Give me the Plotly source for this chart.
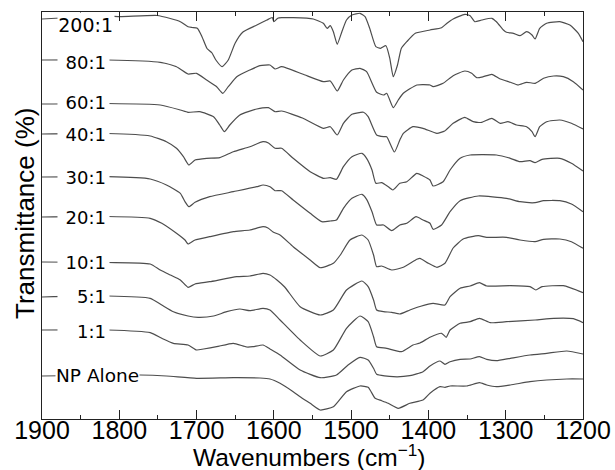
import plotly.graph_objects as go

# FTIR spectra: (wavenumber cm^-1, offset transmittance in arbitrary units)
s_200 = [(1900,400),(1815,403),(1799,402.3),(1751,403.5),(1734,400.5),(1721,397.3),(1711,392.3),(1706,391.5),
         (1699,390.7),(1693,382.3),(1686.5,370.5),(1680,366),(1675,359),(1667,352.3),(1659,359),(1650,376),
         (1640,387),(1622,394),(1609,399),(1602,401.5),(1600,397.3),(1595,400.7),(1590,401.3),(1575,401.3),
         (1549,400),(1536,395.7),(1531,390.7),(1527,393.3),(1523,387.3),(1518,374.7),(1512,387.3),(1506,399),
         (1499,404),(1488.5,405.7),(1482,402.3),(1476,390.7),(1468,372.3),(1462,370.7),(1455,373.3),(1450,360.7),
         (1445.5,342.3),(1440,354),(1435,370.7),(1428,377.3),(1417,385.7),(1398,389),(1383,391.3),(1376,395.7),
         (1368,400),(1353,404.7),(1346,403.3),(1340,397.3),(1331,399),(1318,400.7),(1312,397.3),(1303,389),
         (1299,386.7),(1290,385.7),(1281.5,383.3),(1273,387.3),(1266,384),(1262,380),(1256,390.7),(1247,395.7),
         (1230,397.3),(1217,394),(1206,385.7),(1200,377.3)]

s_80 = [(1900,359),(1815,359),(1747,356.7),(1726,352.3),(1711,345),(1700,345.7),(1687,339),(1674,332.3),
        (1666,325.7),(1659,332.3),(1648,342.3),(1631,349),(1618,353.3),(1605,354),(1598.5,350),(1590,352.3),
        (1563,345),(1536,337.3),(1527,338),(1518,328),(1510,339),(1499,349),(1488.5,350.7),(1480,347.3),
        (1467,326.7),(1458,324),(1454,325.7),(1445.5,311.3),(1439,319),(1432.5,325.7),(1415,334),(1398,334),
        (1394,332.3),(1381,335.7),(1368,343.3),(1353,348),(1344,345.7),(1337.5,341.3),(1329,342.3),(1318,344.7),
        (1307,340),(1294,336.7),(1284,334),(1273,336.7),(1262,335.7),(1251,340.7),(1238,343),(1225.5,342.3),
        (1212.5,337.3),(1200,329)]

s_60 = [(1900,315),(1815,315.5),(1747,314),(1721,309),(1711,306.7),(1696,307.3),(1678,302.3),(1670,294),
        (1664,287.3),(1657,294),(1644,304),(1622,310),(1607,311.3),(1598.5,307.3),(1590,308),(1563,301),
        (1536,290.7),(1527,292.3),(1518,284),(1510,295.7),(1499,304.7),(1484,306.7),(1478,302.3),(1467,284),
        (1458,282.3),(1454,282.3),(1444,267),(1437,279),(1432.5,285.7),(1420,292.3),(1407,290.7),(1389,285.7),
        (1379,288),(1368,295.7),(1353,301.7),(1342,297.3),(1331,296.7),(1318,300.7),(1307,295.7),(1297,297.3),
        (1286,294),(1273,292.3),(1266,287.3),(1262,282.3),(1256,292.3),(1247,297.3),(1230,299),(1215,295.7),
        (1200,290)]

s_40 = [(1900,285),(1815,285.5),(1760,283),(1739,277.3),(1726,270.7),(1717,262.3),(1710,254),(1702,259),
        (1687,260.7),(1670,261.3),(1652.5,267.3),(1631,272.3),(1614,277.3),(1607,276),(1598.5,270.7),(1590,270.7),
        (1575,260.7),(1553,247.3),(1536,240.7),(1527,241.3),(1519,239.7),(1510,252.3),(1499,262.3),(1486,265.7),
        (1480,260.7),(1473,249),(1468,235.7),(1460.5,236.3),(1452,232.3),(1446,229),(1437,235.7),(1428,237.3),
        (1415,245.7),(1407,243),(1398,239),(1394,233),(1381,237.3),(1372,249),(1359,260.7),(1346,264),
        (1312,264),(1294,260.7),(1281.5,257.3),(1268.6,258.3),(1262,256.3),(1253,259.7),(1230,260.7),
        (1215,255.7),(1200,248)]

s_30 = [(1900,242),(1815,242.3),(1760,240),(1739,234),(1721,225.7),(1715,217.3),(1710,212.3),(1702,216.7),
        (1683,222.3),(1652.5,227.3),(1622,232.3),(1614,234),(1605,232.3),(1598.5,228.3),(1590,228.3),(1575,219),
        (1553,205.7),(1538,197.3),(1527,198),(1519,199),(1510,210.7),(1499,220.7),(1486,224.7),(1480,219.7),
        (1473,207.3),(1467,194),(1458,194),(1447.5,188.3),(1437,194),(1428,195.7),(1416,202.3),(1407,199),
        (1398,195.7),(1394,189.7),(1383,194),(1372,207.3),(1359,218.3),(1335.5,223),(1299,220.7),(1281.5,217.3),
        (1262,216.3),(1251,218.3),(1230,218.3),(1215,215),(1200,207.3)]

s_20 = [(1900,202),(1815,202.5),(1760,200.7),(1745,195.7),(1726,185.7),(1715,179),(1711,175),(1702,179),
        (1683,182.3),(1652.5,187.3),(1631,189),(1614,192.3),(1607.6,191),(1601,187),(1592,184),(1575,172.3),
        (1553,159),(1540,151.3),(1523,155.7),(1514,164),(1501.5,179),(1486,184),(1478,179),(1471,164),
        (1467,152.3),(1460.5,153),(1447.5,149),(1432.5,151.7),(1415,159.7),(1411,160.7),(1400,155.7),(1389,151.7),
        (1378.6,155.7),(1368,171),(1355,180),(1335.5,183.3),(1324.6,181.7),(1299,181.7),(1281.5,179),(1262,177.3),
        (1251,179.7),(1230,180),(1215,177.3),(1200,170.7)]

s_10 = [(1900,157),(1815,156.5),(1760,155),(1747,149),(1734,144),(1721,139),(1711,131.7),(1702,135),
        (1683,137.3),(1648,142.3),(1631,143),(1614,145.7),(1605,144),(1596,139),(1586,132),(1566,112.3),
        (1540,104),(1523,109),(1506,129),(1486,138),(1478,132.3),(1471,119),(1467,109),(1458,107.3),
        (1447.5,106.7),(1437,105),(1424,109),(1411,112.5),(1394,115.7),(1378.6,114),(1372,122.3),(1359,130.7),
        (1346,133),(1334,136.3),(1324.6,133),(1294,133.3),(1268.6,132.3),(1261,129),(1253,132.3),(1225.5,133.3),
        (1200,126.3)]

s_5 = [(1900,122),(1815,123),(1760,120.7),(1745,114),(1730,107.3),(1711,103),(1698,101.7),(1678,103),
       (1661,107.3),(1644,110),(1631,108.3),(1614,110.7),(1605,109),(1592,99),(1566,79),(1540,63),
       (1523,69),(1506,90.7),(1488.5,103),(1478,97.3),(1471,82.3),(1467,72.3),(1454,70.7),(1435,67.3),
       (1420,74),(1411,76),(1398,81.7),(1383,85.7),(1377,81.7),(1372,89),(1359,95.7),(1346,97.3),
       (1334,100.7),(1320,96.3),(1299,97.3),(1262,99),(1238,100.7),(1212.5,100.3),(1200,96.3)]

s_1 = [(1900,89),(1815,89),(1760,86.3),(1745,80.7),(1730,75.7),(1711,74),(1700,69),(1691,70),
       (1674,72.3),(1652.5,75.7),(1635,72),(1627,72.3),(1614,74),(1605,70),(1592,64),(1566,49),
       (1540,41.3),(1519,44),(1504,54),(1488.5,61.7),(1478,59),(1471,50.7),(1467,44.7),(1445.5,42.3),
       (1424,43.3),(1407,47.3),(1398,53),(1385,58),(1378.6,54.7),(1372,57.3),(1359,59.7),(1346,60),
       (1334,62.3),(1324.6,59.7),(1312,58.3),(1294,60.7),(1268.6,64),(1247,65.7),(1221,68),(1200,65)]

s_np = [(1900,43),(1773,44),(1739,43),(1700,40.7),(1652.5,41.3),(1618,41),(1605,40),(1592,35.7),
        (1575,27.3),(1566,22.3),(1553,15.7),(1540,9),(1523,12.3),(1506,27.3),(1488.5,33),(1478,31.7),
        (1469,20.7),(1460.5,18.3),(1452,15.7),(1439,10.7),(1424,15.7),(1407,19),(1398,25.7),(1385,32.3),
        (1378.6,31.7),(1372,33),(1350.5,33),(1334,36.3),(1324.6,34),(1312,32.3),(1294,34),(1268.6,37.3),
        (1247,39),(1221,40),(1200,40)]

series_names = ["200:1", "80:1", "60:1", "40:1", "30:1", "20:1", "10:1", "5:1", "1:1", "NP Alone"]
series_data = [s_200, s_80, s_60, s_40, s_30, s_20, s_10, s_5, s_1, s_np]
label_y = [394, 357, 317, 285, 242, 202, 157, 122.3, 88, 43.5]
x_ticks = [1900, 1800, 1700, 1600, 1500, 1400, 1300, 1200]

fig = go.Figure()
for name, data in zip(series_names, series_data):
    xs = [p[0] for p in data]
    ys = [p[1] for p in data]
    fig.add_trace(go.Scatter(x=xs, y=ys, mode="lines", name=name,
                             line=dict(color="#4d4d4d", width=1.2, shape="spline", smoothing=0.5),
                             showlegend=False, hoverinfo="skip"))

for name, yv in zip(series_names, label_y):
    if name == "NP Alone":
        fig.add_annotation(x=1883, y=yv, xref="x", yref="y", text=name, showarrow=False,
                           xanchor="left", yanchor="middle", bgcolor="white", borderpad=0,
                           font=dict(family="DejaVu Sans", size=18.5, color="black"))
    elif name == "200:1":
        fig.add_annotation(x=1881, y=yv, xref="x", yref="y", text=name, showarrow=False,
                           xanchor="left", yanchor="middle", bgcolor="white", borderpad=1,
                           width=54, align="right",
                           font=dict(family="DejaVu Sans", size=19, color="black"))
    else:
        fig.add_annotation(x=1881, y=yv, xref="x", yref="y", text=name, showarrow=False,
                           xanchor="left", yanchor="middle", bgcolor="white", borderpad=3,
                           width=45, align="right",
                           font=dict(family="DejaVu Sans", size=18, color="black"))

# axis titles
fig.add_annotation(x=0.5 - 3.5 / 541, y=(419 - 455.5) / 407, xref="paper", yref="paper",
                   text="Wavenumbers (cm<sup>−1</sup>)", showarrow=False,
                   xanchor="center", yanchor="middle",
                   font=dict(family="Liberation Sans", size=24.5, color="black"))
fig.add_annotation(x=(25 - 42) / 541, y=(419 - 214) / 407, xref="paper", yref="paper",
                   text="Transmittance (%)", showarrow=False, textangle=-90,
                   xanchor="center", yanchor="middle",
                   font=dict(family="Liberation Sans", size=26, color="black"))

fig.update_layout(
    width=615, height=470,
    margin=dict(l=42, r=32, t=12, b=51),
    paper_bgcolor="white", plot_bgcolor="white",
    font=dict(family="Liberation Sans", color="black"),
)
fig.update_xaxes(
    range=[1900, 1200], tickvals=x_ticks, ticks="inside", ticklen=9, tickwidth=1,
    tickcolor="#222", showline=True, linecolor="#222", linewidth=1.3, mirror="allticks",
    showgrid=False, zeroline=False, tickfont=dict(size=25, family="Liberation Sans"),
    ticklabelstandoff=-11,
    minor=dict(dtick=50, ticks="inside", ticklen=4, tickcolor="#222", showgrid=False),
    automargin=False,
)
fig.update_yaxes(
    range=[0, 407], showticklabels=False, ticks="", showline=True, linecolor="#222",
    linewidth=1.3, mirror=True, showgrid=False, zeroline=False,
    automargin=False,
)

fig.write_html("out.html")
